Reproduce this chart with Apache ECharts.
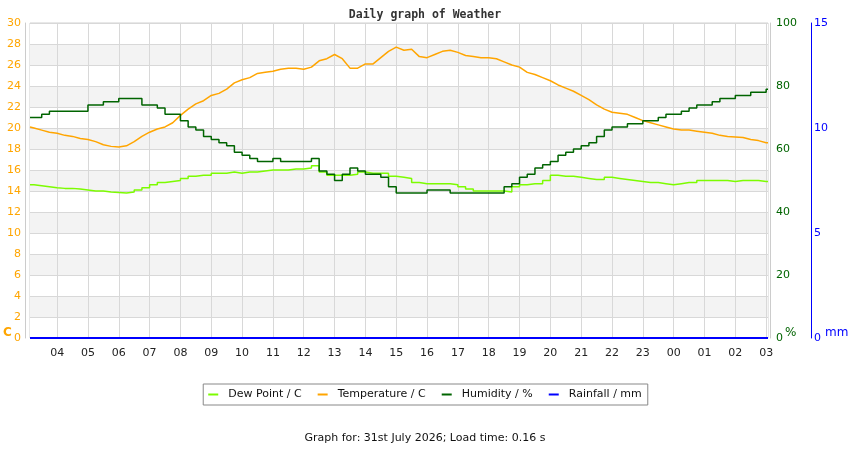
<!DOCTYPE html>
<html>
<head>
<meta charset="utf-8">
<script src="https://cdn.jsdelivr.net/npm/echarts@6/dist/echarts.min.js"></script>
<style>html,body{margin:0;padding:0;background:#fff}#c{width:850px;height:450px}</style>
</head>
<body>
<div id="c"></div>
<script>
// time in hours since midnight of the first day (24+ = next day)
const hours = [
  3.12,
  3.25, 3.5, 3.75, 4,
  4.25, 4.5, 4.75, 5,
  5.25, 5.5, 5.75, 6,
  6.25, 6.5, 6.75, 7,
  7.25, 7.5, 7.75, 8,
  8.25, 8.5, 8.75, 9,
  9.25, 9.5, 9.75, 10,
  10.25, 10.5, 10.75, 11,
  11.25, 11.5, 11.75, 12,
  12.25, 12.5, 12.75, 13,
  13.25, 13.5, 13.75, 14,
  14.25, 14.5, 14.75, 15,
  15.25, 15.5, 15.75, 16,
  16.25, 16.5, 16.75, 17,
  17.25, 17.5, 17.75, 18,
  18.25, 18.5, 18.75, 19,
  19.25, 19.5, 19.75, 20,
  20.25, 20.5, 20.75, 21,
  21.25, 21.5, 21.75, 22,
  22.25, 22.5, 22.75, 23,
  23.25, 23.5, 23.75, 24,
  24.25, 24.5, 24.75, 25,
  25.25, 25.5, 25.75, 26,
  26.25, 26.5, 26.75, 27,
  27.06
];
const dewPoint = [
  14.6,
  14.5, 14.4, 14.3, 14.25,
  14.25, 14.2, 14.1, 14.0,
  14.0, 13.9, 13.85, 13.8,
  13.9, 14.1, 14.3, 14.6,
  14.8, 14.9, 15.0, 15.2,
  15.4, 15.5, 15.5, 15.7,
  15.7, 15.8, 15.7, 15.8,
  15.8, 15.9, 16.0, 16.0,
  16.0, 16.1, 16.1, 16.2,
  16.4, 15.8, 15.5, 15.5,
  15.5, 15.6, 15.8, 15.7,
  15.7, 15.7, 15.4, 15.3,
  15.2, 14.8, 14.7, 14.7,
  14.7, 14.7, 14.6, 14.4,
  14.2, 14.0, 14.0, 14.0,
  14.0, 13.9, 14.4, 14.6,
  14.7, 14.7, 15.0, 15.5,
  15.4, 15.4, 15.3, 15.2,
  15.1, 15.1, 15.3, 15.2,
  15.1, 15.0, 14.9, 14.8,
  14.8, 14.7, 14.6, 14.7,
  14.8, 14.8, 15.0, 15.0,
  15.0, 15.0, 14.9, 15.0,
  15.0, 15.0, 14.9, 14.9,
  14.9
];
const temperature = [
  20.1,
  20.0, 19.8, 19.6, 19.5,
  19.3, 19.2, 19.0, 18.9,
  18.7, 18.4, 18.25, 18.2,
  18.3, 18.7, 19.2, 19.6,
  19.9, 20.1, 20.5, 21.2,
  21.8, 22.3, 22.6, 23.1,
  23.3, 23.7, 24.3, 24.6,
  24.8, 25.2, 25.3, 25.4,
  25.6, 25.7, 25.7, 25.6,
  25.8, 26.4, 26.6, 27.0,
  26.6, 25.7, 25.7, 26.1,
  26.1, 26.7, 27.3, 27.7,
  27.4, 27.5, 26.8, 26.7,
  27.0, 27.3, 27.4, 27.2,
  26.9, 26.8, 26.7, 26.7,
  26.6, 26.3, 26.0, 25.8,
  25.3, 25.1, 24.8, 24.5,
  24.1, 23.8, 23.5, 23.1,
  22.7, 22.2, 21.8, 21.5,
  21.4, 21.3, 21.0, 20.7,
  20.5, 20.3, 20.1, 19.9,
  19.8, 19.8, 19.7, 19.6,
  19.5, 19.3, 19.2, 19.15,
  19.1, 18.9, 18.8, 18.6,
  18.6
];
const humidity = [
  70,
  70, 71, 72, 72,
  72, 72, 72, 74,
  74, 75, 75, 76,
  76, 76, 74, 74,
  73, 71, 71, 69,
  67, 66, 64, 63,
  62, 61, 59, 58,
  57, 56, 56, 57,
  56, 56, 56, 56,
  57, 53, 52, 50,
  52, 54, 53, 52,
  52, 51, 48, 46,
  46, 46, 46, 47,
  47, 47, 46, 46,
  46, 46, 46, 46,
  46, 48, 49, 51,
  52, 54, 55, 56,
  58, 59, 60, 61,
  62, 64, 66, 67,
  67, 68, 68, 69,
  69, 70, 71, 71,
  72, 73, 74, 74,
  75, 76, 76, 77,
  77, 78, 78, 79,
  79
];
const rainHours = [3.12, 27.06];
const rainfall = [0, 0];
const hourTicks = [4,5,6,7,8,9,10,11,12,13,14,15,16,17,18,19,20,21,22,23,24,25,26,27];

const pair = (xs, ys) => xs.map((x, i) => [x, ys[i]]);
const pad = v => { const h = Math.round(v) % 24; return (h < 10 ? '0' : '') + h; };
const F = 'DejaVu Sans';

const chart = echarts.init(document.getElementById('c'), null, {renderer: 'canvas'});
chart.setOption({
  animation: false,
  backgroundColor: '#ffffff',
  title: {
    text: 'Daily graph of Weather', left: 'center', top: 4,
    textStyle: {fontFamily: 'DejaVu Sans Mono', fontWeight: 'bold', fontSize: 11.5, color: '#333'}
  },
  grid: {left: 30, right: 82, top: 23, bottom: 112, show: true, borderColor: '#d0d0d0', borderWidth: 1, backgroundColor: 'transparent'},
  legend: {
    left: 'center', top: 384, orient: 'horizontal',
    borderColor: '#888', borderWidth: 1, borderRadius: 0, padding: [5, 6, 5, 5],
    itemGap: 16, itemWidth: 10, itemHeight: 2, icon: 'rect',
    textStyle: {fontFamily: F, fontSize: 11, color: '#111', padding: [0, 0, 0, 5]},
    data: ['Dew Point / C', 'Temperature / C', 'Humidity / %', 'Rainfall / mm']
  },
  xAxis: {
    type: 'value', min: 3.12, max: 27.06,
    axisLine: {show: false}, axisTick: {show: false, customValues: hourTicks},
    axisLabel: {customValues: hourTicks, formatter: pad, fontFamily: F, fontSize: 11, color: '#222', margin: 10},
    splitLine: {show: true, lineStyle: {color: '#d8d8d8', width: 1}}
  },
  yAxis: [
    {
      type: 'value', min: 0, max: 30, interval: 2, position: 'left', offset: 5,
      axisLine: {show: true, lineStyle: {color: '#cccccc'}}, axisTick: {show: false},
      axisLabel: {color: '#ffa500', fontFamily: F, fontSize: 11, margin: 4},
      splitLine: {show: true, lineStyle: {color: '#d8d8d8'}},
      splitArea: {show: true, areaStyle: {color: ['#ffffff', '#f3f3f3']}}
    },
    {
      type: 'value', min: 0, max: 100, interval: 20, position: 'right', offset: 2,
      axisLine: {show: true, lineStyle: {color: '#cccccc'}}, axisTick: {show: false},
      axisLabel: {color: '#006400', fontFamily: F, fontSize: 11, margin: 6},
      splitLine: {show: false}
    },
    {
      type: 'value', min: 0, max: 15, interval: 5, position: 'right', offset: 43,
      axisLine: {show: true, lineStyle: {color: '#0000ff'}}, axisTick: {show: false},
      axisLabel: {color: '#0000ff', fontFamily: F, fontSize: 11, margin: 3},
      splitLine: {show: false}
    }
  ],
  series: [
    {name: 'Dew Point / C', type: 'line', yAxisIndex: 0, data: pair(hours, dewPoint), showSymbol: false, step: 'end',
     lineStyle: {color: '#7cfc00', width: 1.5}, itemStyle: {color: '#7cfc00'}},
    {name: 'Temperature / C', type: 'line', yAxisIndex: 0, data: pair(hours, temperature), showSymbol: false,
     lineStyle: {color: '#ffa500', width: 1.5}, itemStyle: {color: '#ffa500'}},
    {name: 'Humidity / %', type: 'line', yAxisIndex: 1, data: pair(hours, humidity), showSymbol: false, step: 'end',
     lineStyle: {color: '#006400', width: 1.5}, itemStyle: {color: '#006400'}},
    {name: 'Rainfall / mm', type: 'line', yAxisIndex: 2, data: pair(rainHours, rainfall), showSymbol: false,
     lineStyle: {color: '#0000ff', width: 2}, itemStyle: {color: '#0000ff'}}
  ],
  graphic: [
    {type: 'text', left: 3, top: 327, style: {text: 'C', fill: '#ffa500', font: 'bold 12px "DejaVu Sans"'}},
    {type: 'text', left: 785, top: 327, style: {text: '%', fill: '#006400', font: '12px "DejaVu Sans"'}},
    {type: 'text', left: 825, top: 327, style: {text: 'mm', fill: '#0000ff', font: '12px "DejaVu Sans"'}},
    {type: 'text', left: 'center', top: 433, style: {text: 'Graph for: 31st July 2026; Load time: 0.16 s', fill: '#111', font: '11px "DejaVu Sans"'}}
  ]
});
</script>
</body>
</html>
